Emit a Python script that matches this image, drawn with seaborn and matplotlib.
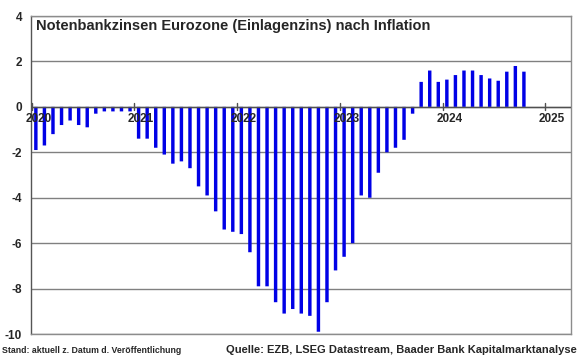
import matplotlib
matplotlib.use("Agg")
import matplotlib.pyplot as plt
import numpy as np
import pandas as pd
import seaborn as sns

# Realzins = EZB-Einlagenzins minus HICP-Inflation, monatlich ab Jan 2020
realzins_2020 = [-1.9, -1.7, -1.2, -0.8, -0.6, -0.8, -0.9, -0.3, -0.2, -0.2, -0.2, -0.2]
realzins_2021 = [-1.4, -1.4, -1.8, -2.1, -2.5, -2.4, -2.7, -3.5, -3.9, -4.6, -5.4, -5.5]
realzins_2022 = [-5.6, -6.4, -7.9, -7.9, -8.6, -9.1, -8.9, -9.1, -9.2, -9.9, -8.6, -7.2]
realzins_2023 = [-6.6, -6.0, -3.9, -4.0, -2.9, -2.0, -1.8, -1.45, -0.3, 1.1, 1.6, 1.1]
realzins_2024 = [1.2, 1.4, 1.6, 1.6, 1.4, 1.25, 1.15, 1.55, 1.8, 1.55]
jahre = [2020, 2021, 2022, 2023, 2024, 2025]
y_ticks = [-10, -8, -6, -4, -2, 0, 2, 4]

werte = realzins_2020 + realzins_2021 + realzins_2022 + realzins_2023 + realzins_2024
df = pd.DataFrame({"monat": np.arange(len(werte)), "realzins": werte})

sns.set_style("white")
plt.rcParams["font.family"] = ["Liberation Sans", "DejaVu Sans"]

fig, ax = plt.subplots(figsize=(5.8, 3.59), dpi=100)
fig.subplots_adjust(left=0.0534, right=0.9845, bottom=0.0696, top=0.9554)

sns.barplot(data=df, x="monat", y="realzins", color="#0000e6", saturation=1,
            width=0.4, linewidth=0, ax=ax, zorder=2)
for bar in ax.patches:
    bar.set_snap(False)

ax.set_xlim(-0.57, 62.5)
ax.set_ylim(-10, 4)
ax.set_xlabel("")
ax.set_ylabel("")

# Rahmen und Gitter
for side in ["top", "right", "bottom"]:
    ax.spines[side].set_color("#8c8c8c")
    ax.spines[side].set_linewidth(1.0)
ax.spines["left"].set_color("#555555")
ax.spines["left"].set_linewidth(1.0)
ax.set_yticks(y_ticks)
ax.set_yticklabels([str(t) for t in y_ticks], fontsize=8.5, fontweight="bold")
ax.yaxis.grid(True, color="#808080", linewidth=1.0, zorder=0)
ax.set_axisbelow(True)
ax.tick_params(axis="y", length=0, pad=6.5)
ax.axhline(0, color="#505050", linewidth=1.0, zorder=3)

# Jahresachse an der Nulllinie
ax.set_xticks([])
for i, jahr in enumerate(jahre):
    ax.plot([12 * i - 0.5, 12 * i - 0.5], [-0.15, 0.15], color="#505050",
            linewidth=1.0, zorder=3, clip_on=False)
    ax.text(12 * i + 0.3, -0.28, str(jahr), ha="center", va="top",
            fontsize=8.5, fontweight="bold", zorder=4)

ax.text(0.0, 3.55, "Notenbankzinsen Eurozone (Einlagenzins) nach Inflation",
        ha="left", va="center", fontsize=10.5, fontweight="bold")

fig.text(0.004, 0.018, "Stand: aktuell z. Datum d. Veröffentlichung",
         ha="left", va="baseline", fontsize=6.3, fontweight="bold")
fig.text(0.995, 0.018, "Quelle: EZB, LSEG Datastream, Baader Bank Kapitalmarktanalyse",
         ha="right", va="baseline", fontsize=8.0, fontweight="bold")

fig.savefig("out.png", dpi=100)
